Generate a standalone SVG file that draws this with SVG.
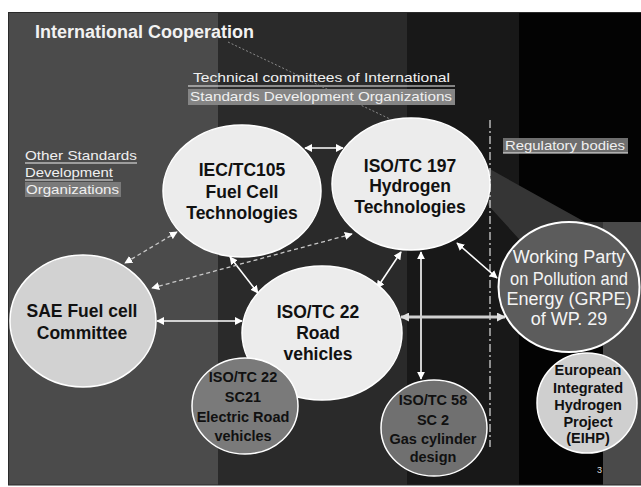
<svg xmlns="http://www.w3.org/2000/svg" width="641" height="487" viewBox="0 0 641 487">
<defs>
<marker id="ah" viewBox="0 0 10 10" refX="9" refY="5" markerWidth="8" markerHeight="8" markerUnits="userSpaceOnUse" orient="auto-start-reverse"><path d="M0,0 L10,5 L0,10 z" fill="#ffffff"/></marker>
<marker id="ahg" viewBox="0 0 10 10" refX="9" refY="5" markerWidth="9" markerHeight="9" markerUnits="userSpaceOnUse" orient="auto-start-reverse"><path d="M0,0 L10,5 L0,10 z" fill="#e0e0e0"/></marker>
</defs>
<style>
.t{font-family:"Liberation Sans",Arial,sans-serif}
.nb{font-family:"Liberation Sans",Arial,sans-serif;font-weight:bold;font-size:17.5px;fill:#111;text-anchor:middle}
.sb{font-family:"Liberation Sans",Arial,sans-serif;font-weight:bold;font-size:14.5px;fill:#111;text-anchor:middle}
.lab{font-family:"Liberation Sans",Arial,sans-serif;font-size:13px;fill:#f0f0f0}
.ul{stroke:#f0f0f0;stroke-width:1.2}
.big{fill:#ececec;stroke:#ffffff;stroke-width:1.5}
.c{stroke:#ffffff;stroke-width:1.6;fill:none;marker-start:url(#ah);marker-end:url(#ah)}
.d{stroke:#c8c8c8;stroke-width:1.3;stroke-dasharray:4 3;fill:none;marker-start:url(#ah);marker-end:url(#ah)}
.wp{font-family:"Liberation Sans",Arial,sans-serif;font-size:18px;fill:#f4f4f4;text-anchor:middle}
</style>
<rect x="0" y="0" width="641" height="487" fill="#ffffff"/>
<g id="background">
<rect x="8" y="12" width="210" height="473" fill="#4b4b4b"/>
<rect x="218" y="12" width="189" height="473" fill="#2a2a2a"/>
<rect x="407" y="12" width="112" height="473" fill="#181818"/>
<rect x="519" y="12" width="122" height="473" fill="#030303"/>
<polygon points="488,168 585,222 641,222 641,262 540,262 488,205" fill="#353535"/>
<rect x="603" y="222" width="38" height="263" fill="#4a4a4a"/>
<rect x="8.5" y="12.5" width="633" height="472.5" fill="none" stroke="#2a2a2a" stroke-width="1"/>
</g>
<g id="labels">
<text class="t" x="35" y="38" font-size="18" font-weight="bold" fill="#f2f2f2">International Cooperation</text>
<text class="lab" x="193" y="82" textLength="257" lengthAdjust="spacingAndGlyphs">Technical committees of International</text>
<line class="ul" x1="188" y1="86" x2="455" y2="86"/>
<rect x="188" y="89" width="267" height="16" fill="#858585"/>
<text class="lab" x="190" y="101" textLength="262" lengthAdjust="spacingAndGlyphs">Standards Development Organizations</text>
<rect x="503" y="138" width="125" height="15" fill="#6e6e6e"/>
<text class="lab" x="505" y="150" textLength="120" lengthAdjust="spacingAndGlyphs">Regulatory bodies</text>
<line class="ul" x1="503" y1="153" x2="628" y2="153"/>
<text class="lab" x="25" y="160" textLength="112" lengthAdjust="spacingAndGlyphs">Other Standards</text>
<line class="ul" x1="25" y1="163" x2="137" y2="163"/>
<text class="lab" x="25" y="177" textLength="88" lengthAdjust="spacingAndGlyphs">Development</text>
<line class="ul" x1="25" y1="180" x2="113" y2="180"/>
<rect x="25" y="182" width="96" height="15" fill="#7a7a7a"/>
<text class="lab" x="26" y="194" textLength="93" lengthAdjust="spacingAndGlyphs">Organizations</text>
<text class="t" x="597" y="473" font-size="9" fill="#dddddd">3</text>
</g>
<g id="connectors">
<line x1="228" y1="42" x2="390" y2="119" stroke="#8a8a8a" stroke-width="1" stroke-dasharray="2 2"/>
<line x1="490" y1="120" x2="490" y2="447" stroke="#e0e0e0" stroke-width="1.2" stroke-dasharray="8 3 2 3"/>
<line class="c" x1="305" y1="148" x2="343" y2="148"/>
<line class="c" x1="230" y1="257" x2="258" y2="293"/>
<line class="c" x1="401" y1="252" x2="377" y2="288"/>
<line class="c" x1="421" y1="252" x2="421" y2="379"/>
<line class="c" x1="457" y1="243" x2="497" y2="278"/>
<line class="c" x1="157" y1="321" x2="242" y2="321"/>
<line x1="401" y1="317" x2="505" y2="317" stroke="#d0d0d0" stroke-width="3" marker-start="url(#ahg)" marker-end="url(#ahg)"/>
<line class="d" x1="177" y1="232" x2="125" y2="263"/>
<line class="d" x1="352" y1="234" x2="152" y2="288"/>
</g>
<g id="iec">
<ellipse class="big" cx="242" cy="191" rx="79" ry="66"/>
<text class="nb" x="242" y="176">IEC/TC105</text>
<text class="nb" x="242" y="198">Fuel Cell</text>
<text class="nb" x="242" y="219">Technologies</text>
</g>
<g id="iso197">
<ellipse class="big" cx="411" cy="184" rx="79" ry="66"/>
<text class="nb" x="410" y="172">ISO/TC 197</text>
<text class="nb" x="410" y="192">Hydrogen</text>
<text class="nb" x="410" y="213">Technologies</text>
</g>
<g id="sae">
<ellipse cx="83" cy="321" rx="73" ry="66" fill="#d2d2d2" stroke="#ffffff" stroke-width="1.5"/>
<text class="nb" x="82" y="317">SAE Fuel cell</text>
<text class="nb" x="82" y="339">Committee</text>
</g>
<g id="tc22">
<ellipse class="big" cx="322" cy="333" rx="80" ry="67"/>
<text class="nb" x="318" y="318">ISO/TC 22</text>
<text class="nb" x="318" y="339">Road</text>
<text class="nb" x="318" y="360">vehicles</text>
</g>
<g id="sc21">
<ellipse cx="245" cy="406" rx="53" ry="48" fill="#7a7a7a" stroke="#ffffff" stroke-width="1.5"/>
<text class="sb" x="243" y="382">ISO/TC 22</text>
<text class="sb" x="243" y="402">SC21</text>
<text class="sb" x="243" y="422">Electric Road</text>
<text class="sb" x="243" y="441">vehicles</text>
</g>
<g id="tc58">
<ellipse cx="434" cy="428" rx="53" ry="48" fill="#707070" stroke="#ffffff" stroke-width="1.5"/>
<text class="sb" x="433" y="405">ISO/TC 58</text>
<text class="sb" x="433" y="425">SC 2</text>
<text class="sb" x="433" y="444">Gas cylinder</text>
<text class="sb" x="433" y="462">design</text>
</g>
<g id="wp29">
<ellipse cx="569" cy="287" rx="70.5" ry="65" fill="#5c5c5c" stroke="#ffffff" stroke-width="2"/>
<text class="wp" x="569" y="263">Working Party</text>
<text class="wp" x="569" y="285" textLength="118" lengthAdjust="spacingAndGlyphs">on Pollution and</text>
<text class="wp" x="569" y="305">Energy (GRPE)</text>
<text class="wp" x="569" y="325">of WP. 29</text>
</g>
<g id="eihp">
<ellipse cx="587" cy="403" rx="50" ry="50" fill="#cfcfcf" stroke="#ffffff" stroke-width="1.5"/>
<text class="sb" x="588" y="375" font-size="13">European</text>
<text class="sb" x="588" y="393" font-size="13">Integrated</text>
<text class="sb" x="588" y="410" font-size="13">Hydrogen</text>
<text class="sb" x="588" y="427" font-size="13">Project</text>
<text class="sb" x="588" y="443" font-size="13">(EIHP)</text>
</g>
</svg>
